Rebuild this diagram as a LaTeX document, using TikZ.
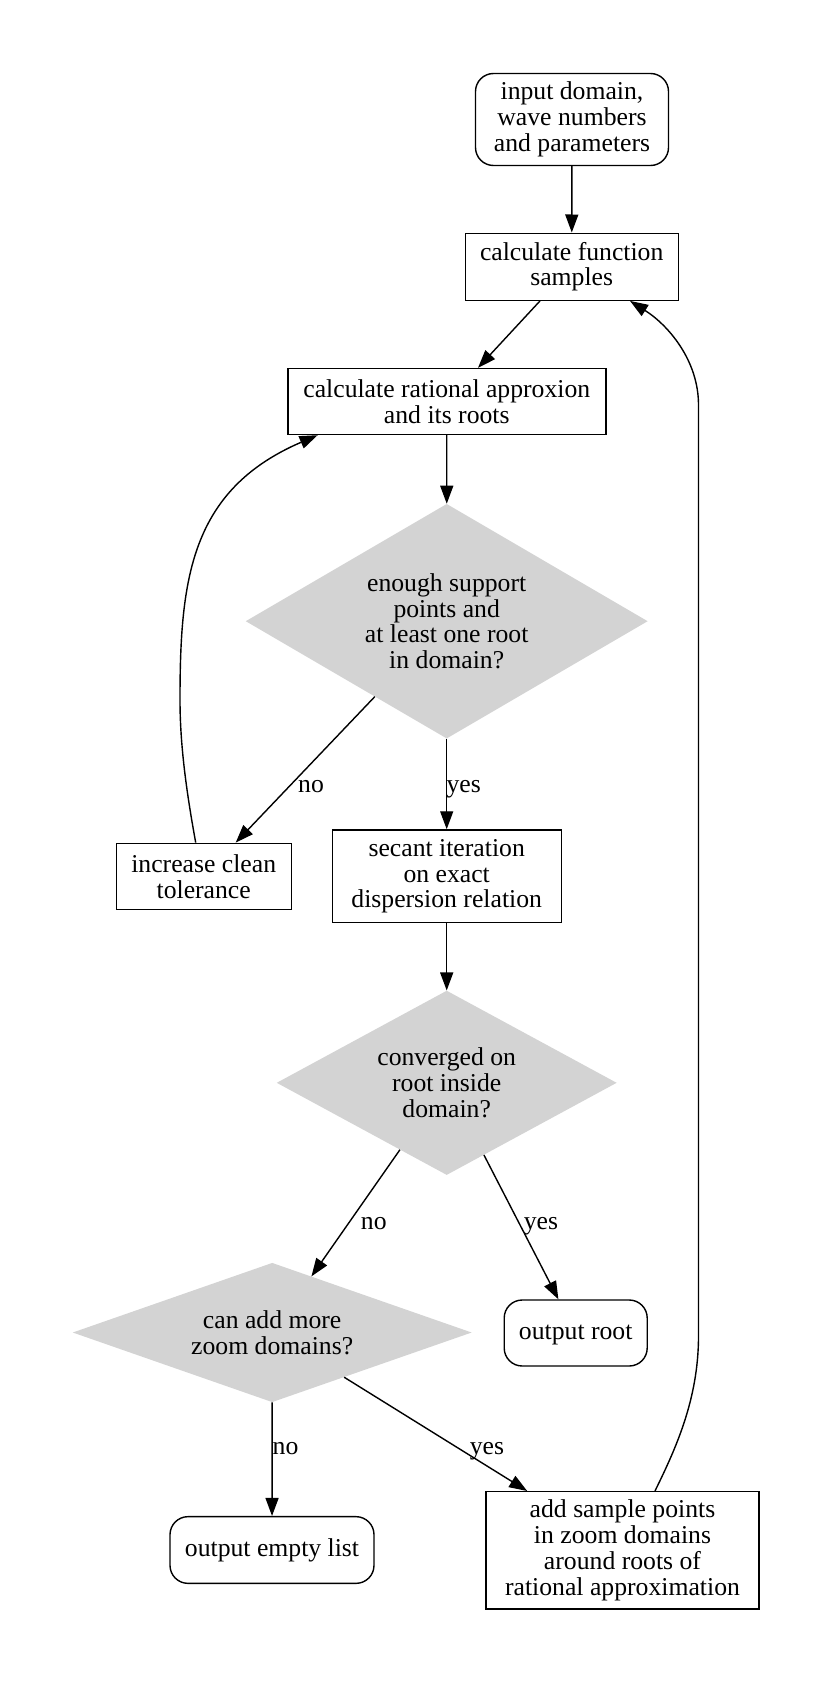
\documentclass[tikz,border=0pt]{standalone}
\usepackage{fontspec}
\setmainfont{Liberation Serif}
\usetikzlibrary{shapes.geometric,arrows.meta}
\definecolor{lgray}{RGB}{211,211,211}
\begin{document}
\begin{tikzpicture}[x=1pt,y=-1pt,
  txt/.style={font=\fontsize{25.7}{25.8}\selectfont, align=center, inner sep=0pt},
  boxnode/.style={txt, draw, rectangle, line width=1.4pt},
  termnode/.style={txt, draw, rectangle, rounded corners=18pt, line width=1.4pt},
  decnode/.style={txt, diamond, fill=lgray, aspect=1.7},
  lbl/.style={font=\fontsize{25.7}{25.8}\selectfont, inner sep=0pt, anchor=base},
  conn/.style={line width=1.4pt, -{Triangle[length=18pt,width=13pt]}}]
\useasboundingbox (0,0) rectangle (830,1683);
\fill[white] (0,0) rectangle (830,1683);

\node[termnode, minimum width=193pt, minimum height=92pt] (in) at (572,119.5)
  {input domain,\\wave numbers\\and parameters};
\node[boxnode, minimum width=213pt, minimum height=67pt] (cfs) at (571.7,266.7)
  {calculate function\\samples};
\node[boxnode, minimum width=318pt, minimum height=66pt] (cra) at (446.8,401.5)
  {calculate rational approxion\\and its roots};
\node[decnode, minimum width=402pt, minimum height=234.6pt] (d1) at (446.7,621.2)
  {enough support\\points and\\at least one root\\in domain?};
\node[boxnode, minimum width=175pt, minimum height=66pt] (inc) at (203.7,876.3)
  {increase clean\\tolerance};
\node[boxnode, minimum width=229pt, minimum height=92.7pt] (sec) at (446.7,876.3)
  {secant iteration\\on exact\\dispersion relation};
\node[decnode, minimum width=340pt, minimum height=184.3pt] (d2) at (446.7,1082.8)
  {converged on\\root inside\\domain?};
\node[decnode, minimum width=399pt, minimum height=132.3pt] (d3) at (272.2,1332.5)
  {can add more\\zoom domains?};
\node[termnode, minimum width=143pt, minimum height=66pt] (ort) at (575.7,1333)
  {output root\vphantom{l}};
\node[termnode, minimum width=204pt, minimum height=66.7pt] (oel) at (272,1550)
  {output empty list};
\node[boxnode, minimum width=273pt, minimum height=117.5pt] (asp) at (622.5,1550.4)
  {add sample points\\in zoom domains\\around roots of\\rational approximation};

\draw[conn] (in) -- (cfs);
\draw[conn] (cfs) -- (cra);
\draw[conn] (cra) -- (d1);
\draw[conn] (d1) -- (inc);
\draw[conn] (d1) -- (sec);
\draw[conn] (sec) -- (d2);
\draw[conn] (d2) -- (d3);
\draw[conn] (d2) -- (ort);
\draw[conn] (d3) -- (oel);
\draw[conn] (d3) -- (asp);

\draw[conn] ([xshift=-8pt]inc.north) .. controls (188,800) and (180,750) .. (180,700)
  .. controls (180,580) and (190,490) .. ([xshift=30.5pt]cra.south west);
\draw[conn] ([xshift=32.5pt]asp.north) .. controls (675,1450) and (698.5,1400) .. (698.5,1336)
  -- (698.5,405) .. controls (698.5,360) and (668,325) .. ([xshift=58.3pt]cfs.south);

\node[lbl] (l1) at (311,792.7) {no};
\node[lbl] (l2) at (463.7,792.7) {yes};
\node[lbl] (l3) at (373.8,1229.3) {no};
\node[lbl] (l4) at (541,1229.3) {yes};
\node[lbl] (l5) at (285.5,1454) {no};
\node[lbl] (l6) at (487,1454) {yes};
\end{tikzpicture}
\end{document}
